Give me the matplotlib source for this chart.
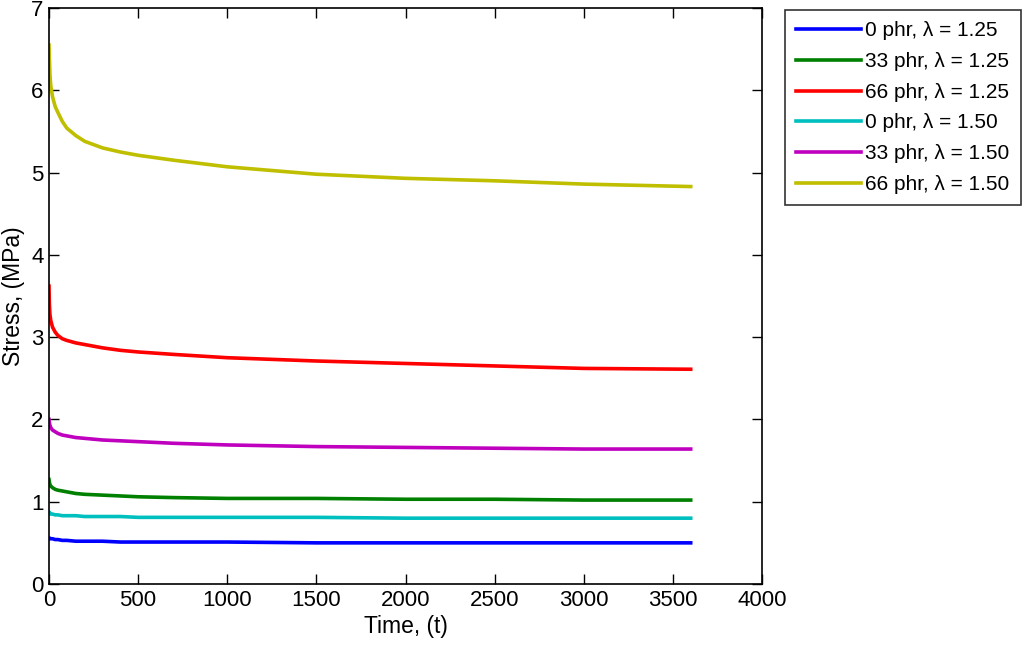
import numpy as np
import matplotlib.pyplot as plt

plt.rcParams['font.family'] = ['Liberation Sans', 'DejaVu Sans']

# Tiempos (s) y tensiones
t = [0, 2, 5, 10, 20, 35, 50, 75, 100, 150, 200, 300, 400, 500, 700, 1000,
     1500, 2000, 2500, 3000, 3600]

s_0_125 = [0.56, 0.56, 0.55, 0.55, 0.55, 0.54, 0.54, 0.53, 0.53, 0.52, 0.52, 0.52,
           0.51, 0.51, 0.51, 0.51, 0.50, 0.50, 0.50, 0.50, 0.50]
s_33_125 = [1.27, 1.24, 1.21, 1.19, 1.17, 1.15, 1.14, 1.13, 1.12, 1.10, 1.09, 1.08,
            1.07, 1.06, 1.05, 1.04, 1.04, 1.03, 1.03, 1.02, 1.02]
s_66_125 = [3.62, 3.40, 3.28, 3.20, 3.12, 3.06, 3.02, 2.98, 2.96, 2.93, 2.91, 2.87,
            2.84, 2.82, 2.79, 2.75, 2.71, 2.68, 2.65, 2.62, 2.61]
s_0_150 = [0.87, 0.86, 0.86, 0.85, 0.85, 0.84, 0.84, 0.83, 0.83, 0.83, 0.82, 0.82,
           0.82, 0.81, 0.81, 0.81, 0.81, 0.80, 0.80, 0.80, 0.80]
s_33_150 = [2.00, 1.96, 1.93, 1.90, 1.87, 1.85, 1.83, 1.81, 1.80, 1.78, 1.77, 1.75,
            1.74, 1.73, 1.71, 1.69, 1.67, 1.66, 1.65, 1.64, 1.64]
s_66_150 = [6.55, 6.40, 6.20, 6.05, 5.92, 5.80, 5.73, 5.62, 5.54, 5.45, 5.38, 5.30,
            5.25, 5.21, 5.15, 5.07, 4.98, 4.93, 4.90, 4.86, 4.83]

series = [s_0_125, s_33_125, s_66_125, s_0_150, s_33_150, s_66_150]
etiquetas = ['0 phr, λ = 1.25', '33 phr, λ = 1.25', '66 phr, λ = 1.25',
             '0 phr, λ = 1.50', '33 phr, λ = 1.50', '66 phr, λ = 1.50']
colores = [(0, 0, 1), (0, 0.5, 0), (1, 0, 0),
           (0, 0.75, 0.75), (0.75, 0, 0.75), (0.75, 0.75, 0)]

fig = plt.figure(figsize=(10.24, 6.46), dpi=100)
ax = fig.add_axes([49 / 1024, 62 / 646, 713 / 1024, 576 / 646])

for s, lab, c in zip(series, etiquetas, colores):
    ax.plot(t, s, color=c, linewidth=2.6, label=lab)

ax.set_xlim(0, 4000)
ax.set_ylim(0, 7)
ax.set_xticks(np.arange(0, 4001, 500))
ax.set_yticks(np.arange(0, 8, 1))
ax.tick_params(direction='in', top=True, right=True, length=7, width=1,
               labelsize=16, pad=4)
for sp in ax.spines.values():
    sp.set_linewidth(1.2)
ax.set_xlabel('Time, (t)', fontsize=16.5, labelpad=3)
ax.set_ylabel('Stress, (MPa)', fontsize=16.5, labelpad=4)

leg = ax.legend(loc='upper left', bbox_to_anchor=(785 / 1024, 1 - 10 / 646),
                bbox_transform=fig.transFigure, borderaxespad=0, fontsize=15,
                fancybox=False, edgecolor='black', handlelength=3.1,
                handletextpad=0.2, labelspacing=0.56, borderpad=0.55)
leg.get_frame().set_linewidth(1.2)

fig.savefig('out.png', dpi=100)
